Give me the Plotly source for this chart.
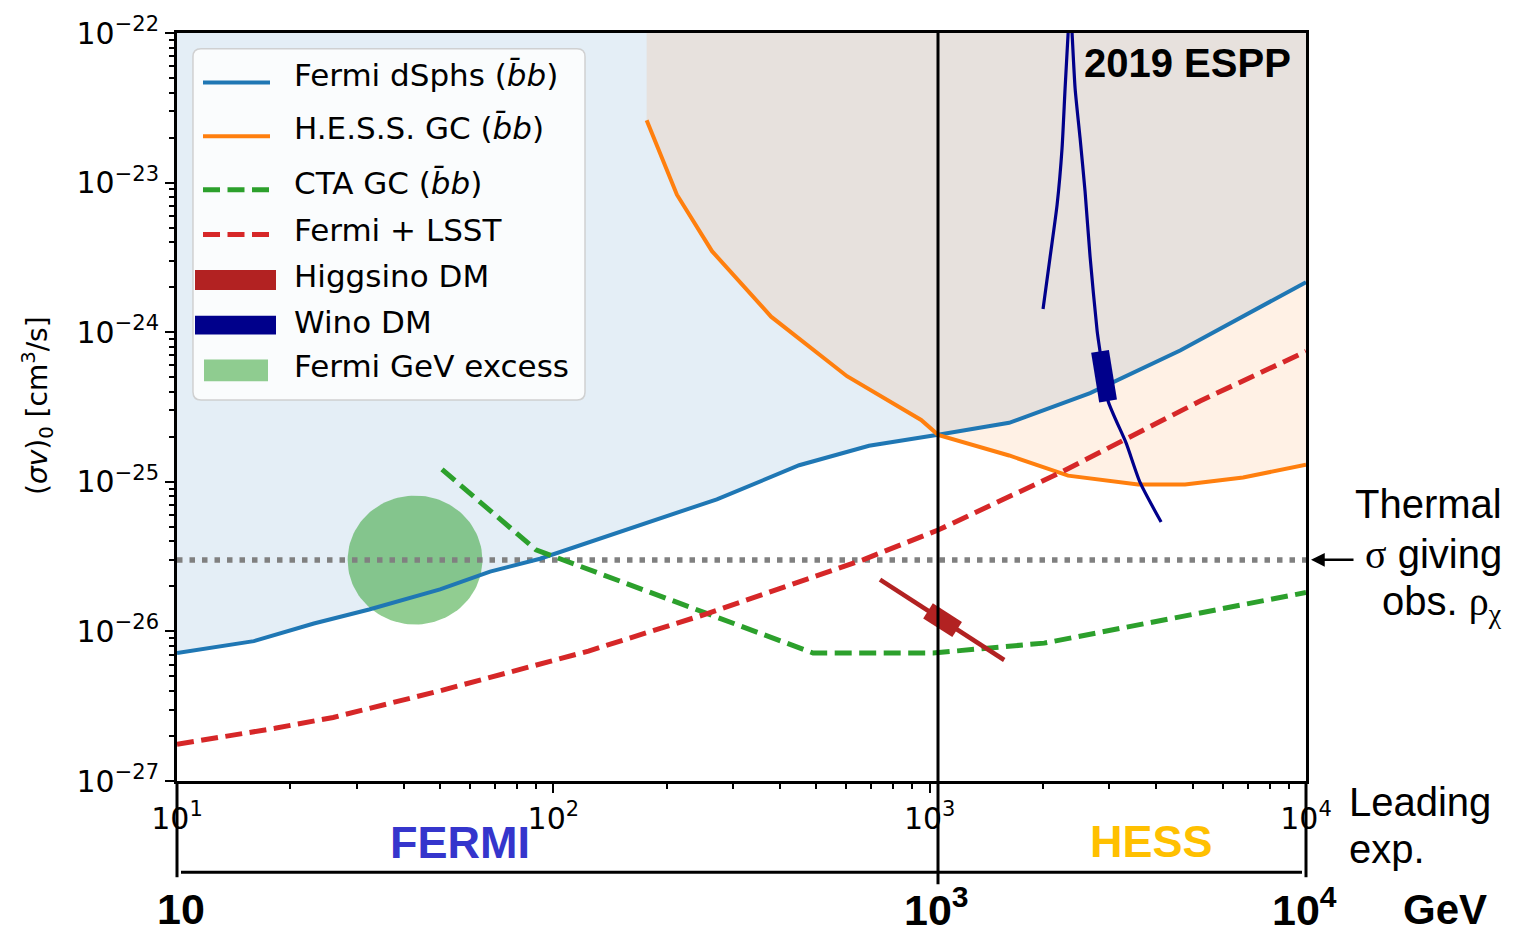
import numpy as np
import plotly.graph_objects as go

# ---------------------------------------------------------------------------
# Limits and projections on the annihilation cross section (GeV, cm^3/s)
# ---------------------------------------------------------------------------
fermi_dsph_mass = [10, 16.0, 23.1, 32.4, 50.0, 67.9, 92.2, 133, 272, 450, 690,
                   1053, 1626, 2669, 4629, 10000]
fermi_dsph_sv = [7.17e-27, 8.61e-27, 1.13e-26, 1.40e-26, 1.91e-26, 2.51e-26,
                 3.06e-26, 4.15e-26, 7.64e-26, 1.29e-25, 1.74e-25, 2.06e-25,
                 2.48e-25, 3.92e-25, 7.55e-25, 2.16e-24]

hess_gc_mass = [177, 213, 264, 379, 603, 949, 1053, 1626, 2333, 3579, 4771,
                6805, 10000]
hess_gc_sv = [2.61e-23, 8.30e-24, 3.48e-24, 1.27e-24, 5.08e-25, 2.59e-25,
              2.06e-25, 1.50e-25, 1.10e-25, 9.61e-26, 9.61e-26, 1.07e-25,
              1.30e-25]

cta_gc_mass = [50.6, 89.9, 490, 1021, 2014, 3996, 10000]
cta_gc_sv = [1.21e-25, 3.51e-26, 7.17e-27, 7.17e-27, 8.35e-27, 1.17e-26,
             1.82e-26]

fermi_lsst_mass = [10, 18.2, 26.0, 50.0, 124, 253, 665, 1053, 2221, 5232,
                   10000]
fermi_lsst_sv = [1.76e-27, 2.25e-27, 2.66e-27, 4.01e-27, 7.39e-27, 1.30e-26,
                 3.01e-26, 4.76e-26, 1.15e-25, 3.47e-25, 7.44e-25]

higgsino_mass = [738, 1578]
higgsino_sv = [2.22e-26, 6.44e-27]
higgsino_thermal_mass = [990, 1183]
higgsino_thermal_sv = [1.37e-26, 1.03e-26]

wino_mass = [2001, 2089, 2181, 2248, 2290, 2333, 2362, 2390, 2435, 2510,
             2588, 2669, 2786, 2836, 2979, 3326, 3623, 4121]
wino_sv = [1.43e-24, 3.17e-24, 7.12e-24, 1.70e-23, 4.25e-23, 1.0e-22,
           1.76e-22, 1.0e-22, 4.25e-23, 1.98e-23, 8.69e-24, 3.17e-24,
           1.02e-24, 7.44e-25, 3.47e-25, 1.82e-25, 9.9e-26, 5.38e-26]
wino_thermal_mass = [2836, 2979]
wino_thermal_sv = [7.44e-25, 3.47e-25]

# Fermi GeV excess region: centre and half-widths (in decades)
gce_mass = 42.9
gce_sv = 3.0e-26
gce_halfwidth_mass_dex = 0.179
gce_halfwidth_sv_dex = 0.431

# thermal relic cross section
thermal_sv = 3.0e-26

x_range_log = [1, 4]
y_range_log = [-27, -22]
x_major = [10, 100, 1000, 10000]
x_labels = ["10<sup>1</sup>", "10<sup>2</sup>", "10<sup>3</sup>", "10<sup>4</sup>"]
y_major = [1e-27, 1e-26, 1e-25, 1e-24, 1e-23, 1e-22]
y_labels = ["10<sup>\u221227</sup>", "10<sup>\u221226</sup>", "10<sup>\u221225</sup>",
            "10<sup>\u221224</sup>", "10<sup>\u221223</sup>", "10<sup>\u221222</sup>"]
x_minor = [k * 10 ** d for d in (1, 2, 3) for k in range(2, 10)]
y_minor = [k * 10.0 ** d for d in (-27, -26, -25, -24, -23) for k in range(2, 10)]

# ---------------------------------------------------------------------------
# Page geometry (pixels) and helpers to place overlay items in paper units
# ---------------------------------------------------------------------------
W, H = 1521, 935
PL, PR, PT, PB = 177, 1306, 27, 781


def fx(px):
    return (px - PL) / (PR - PL)


def fy(py):
    return (PB - py) / (PB - PT)


BLUE = "#1f77b4"
ORANGE = "#ff7f0e"
GREEN = "#2ca02c"
RED = "#d62728"
HIGGSINO = "#b22222"
WINO = "#00008b"
GCE_FILL = "rgba(44,160,44,0.52)"
DASH = "17px,7.5px"
MPL_FONT = "DejaVu Sans"
SLIDE_FONT = "Liberation Sans"
TICK_SIZE = 30

fig = go.Figure()

# excluded regions (filled up to the top of the frame)
top = 10.0 ** y_range_log[1]
fig.add_trace(go.Scatter(
    x=fermi_dsph_mass + [fermi_dsph_mass[-1], fermi_dsph_mass[0]],
    y=fermi_dsph_sv + [top, top],
    mode="lines", line=dict(width=0), fill="toself",
    fillcolor="rgba(31,119,180,0.12)", hoverinfo="skip"))
fig.add_trace(go.Scatter(
    x=hess_gc_mass + [hess_gc_mass[-1], hess_gc_mass[0]],
    y=hess_gc_sv + [top, top],
    mode="lines", line=dict(width=0), fill="toself",
    fillcolor="rgba(255,127,14,0.11)", hoverinfo="skip"))

# Fermi GeV excess ellipse (round in log-log space)
t = np.linspace(0, 2 * np.pi, 121)
fig.add_trace(go.Scatter(
    x=10 ** (np.log10(gce_mass) + gce_halfwidth_mass_dex * np.cos(t)),
    y=10 ** (np.log10(gce_sv) + gce_halfwidth_sv_dex * np.sin(t)),
    mode="lines", line=dict(width=0), fill="toself", fillcolor=GCE_FILL,
    hoverinfo="skip"))

# thermal relic line
fig.add_trace(go.Scatter(
    x=[10.0 ** x_range_log[0], 10.0 ** x_range_log[1]], y=[thermal_sv, thermal_sv],
    mode="lines", line=dict(color="#808080", width=5.5, dash="5.5px,7px")))

fig.add_trace(go.Scatter(x=fermi_dsph_mass, y=fermi_dsph_sv, mode="lines",
                         line=dict(color=BLUE, width=4)))
fig.add_trace(go.Scatter(x=hess_gc_mass, y=hess_gc_sv, mode="lines",
                         line=dict(color=ORANGE, width=4)))
fig.add_trace(go.Scatter(x=cta_gc_mass, y=cta_gc_sv, mode="lines",
                         line=dict(color=GREEN, width=5, dash=DASH)))
fig.add_trace(go.Scatter(x=fermi_lsst_mass, y=fermi_lsst_sv, mode="lines",
                         line=dict(color=RED, width=5, dash=DASH)))

fig.add_trace(go.Scatter(x=higgsino_mass, y=higgsino_sv, mode="lines",
                         line=dict(color=HIGGSINO, width=4.5)))
fig.add_trace(go.Scatter(x=higgsino_thermal_mass, y=higgsino_thermal_sv, mode="lines",
                         line=dict(color=HIGGSINO, width=18)))
fig.add_trace(go.Scatter(x=wino_mass, y=wino_sv, mode="lines",
                         line=dict(color=WINO, width=3.2, shape="spline", smoothing=0.6)))
fig.add_trace(go.Scatter(x=wino_thermal_mass, y=wino_thermal_sv, mode="lines",
                         line=dict(color=WINO, width=18)))

# ---------------------------------------------------------------------------
# Overlay: legend, leading-experiment axis, labels
# ---------------------------------------------------------------------------
shapes = []
annotations = []


def pline(x0, y0, x1, y1, color="black", width=3, dash="solid"):
    shapes.append(dict(type="line", xref="paper", yref="paper",
                       x0=fx(x0), y0=fy(y0), x1=fx(x1), y1=fy(y1),
                       line=dict(color=color, width=width, dash=dash), layer="above"))


def prect(x0, y0, x1, y1, color):
    shapes.append(dict(type="rect", xref="paper", yref="paper",
                       x0=fx(x0), y0=fy(y1), x1=fx(x1), y1=fy(y0),
                       fillcolor=color, line=dict(width=0), layer="above"))


def ptext(px, py, text, size, family=MPL_FONT, color="black",
          xanchor="center", yanchor="middle", angle=0):
    annotations.append(dict(xref="paper", yref="paper", x=fx(px), y=fy(py),
                            text=text, showarrow=False, xanchor=xanchor,
                            yanchor=yanchor, textangle=angle,
                            font=dict(family=family, size=size, color=color)))


def rounded_path(x0, y0, x1, y1, r):
    pts = [("M", [(x0 + r, y0)]), ("L", [(x1 - r, y0)]), ("Q", [(x1, y0), (x1, y0 + r)]),
           ("L", [(x1, y1 - r)]), ("Q", [(x1, y1), (x1 - r, y1)]), ("L", [(x0 + r, y1)]),
           ("Q", [(x0, y1), (x0, y1 - r)]), ("L", [(x0, y0 + r)]),
           ("Q", [(x0, y0), (x0 + r, y0)])]
    out = []
    for cmd, p in pts:
        out.append(cmd + " " + " ".join(f"{fx(a):.5f},{fy(b):.5f}" for a, b in p))
    return " ".join(out) + " Z"


# legend frame
shapes.append(dict(type="path", xref="paper", yref="paper",
                   path=rounded_path(193, 43, 585, 397, 8),
                   fillcolor="rgba(255,255,255,0.8)",
                   line=dict(color="rgba(204,204,204,0.9)", width=1.5), layer="above"))

pline(203, 77, 270, 77, BLUE, 4)
pline(203, 131, 270, 131, ORANGE, 4)
pline(203, 185, 270, 185, GREEN, 5, DASH)
pline(203, 230, 270, 230, RED, 5, DASH)
prect(195, 266, 276, 286, HIGGSINO)
prect(195, 312, 276, 331, WINO)
prect(204, 356, 268, 378, GCE_FILL)

bb = "(<i>b\u0304b</i>)"
legend_rows = [("Fermi dSphs " + bb, 69), ("H.E.S.S. GC " + bb, 123),
               ("CTA GC " + bb, 178), ("Fermi + LSST", 226), ("Higgsino DM", 272),
               ("Wino DM", 318), ("Fermi GeV excess", 363)]
for label, yy in legend_rows:
    ptext(292, yy, label, 31, xanchor="left")

# leading-experiment axis below the plot
pline(938, PT, 938, 885, "black", 3)
pline(PL, PB, PL, 878, "black", 3)
pline(PR, PB, PR, 878, "black", 3)
pline(181, 873, 1302, 873, "black", 3)

ptext(460, 843, "<b>FERMI</b>", 45, SLIDE_FONT, "#3535cc")
ptext(1151, 842, "<b>HESS</b>", 45, SLIDE_FONT, "#ffc000")
ptext(181, 910, "<b>10</b>", 43, SLIDE_FONT)
ptext(936, 908, "<b>10<sup>3</sup></b>", 43, SLIDE_FONT)
ptext(1304, 908, "<b>10<sup>4</sup></b>", 43, SLIDE_FONT)
ptext(1445, 911, "<b>GeV</b>", 42, SLIDE_FONT)
ptext(1347, 802, "Leading", 40, SLIDE_FONT, xanchor="left")
ptext(1347, 850, "exp.", 40, SLIDE_FONT, xanchor="left")

# thermal relic label
greek = "<span style=\"font-family:'Liberation Serif'\">{}</span>"
ptext(1504, 502, "Thermal", 40, SLIDE_FONT, xanchor="right")
ptext(1504, 553, greek.format("\u03c3") + " giving", 40, SLIDE_FONT, xanchor="right")
ptext(1504, 603, "obs. " + greek.format("\u03c1<sub>\u03c7</sub>"), 40, SLIDE_FONT,
      xanchor="right")
annotations.append(dict(xref="paper", yref="paper", x=fx(1311), y=fy(558),
                        ax=44, ay=0, text="", showarrow=True, arrowhead=2,
                        arrowsize=1.1, arrowwidth=2.5, arrowcolor="black"))

ptext(1293, 57, "<b>2019 ESPP</b>", 40, SLIDE_FONT, xanchor="right")

# y-axis title
ptext(37, 403, "(<i>\u03c3v</i>)<sub>0</sub> [cm<sup>3</sup>/s]", 28, angle=-90)

fig.update_layout(
    width=W, height=H,
    margin=dict(l=PL, r=W - PR, t=PT, b=H - PB, pad=0),
    plot_bgcolor="white", paper_bgcolor="white",
    showlegend=False,
    font=dict(family=MPL_FONT, color="black"),
    shapes=shapes, annotations=annotations,
)
fig.update_xaxes(
    type="log", range=x_range_log, showgrid=False, zeroline=False,
    showline=True, linecolor="black", linewidth=3, mirror=True,
    ticks="outside", ticklen=9, tickwidth=2, tickcolor="black",
    tickvals=x_major, ticktext=x_labels,
    tickfont=dict(family=MPL_FONT, size=TICK_SIZE, color="black"),
    minor=dict(tickvals=x_minor, ticks="outside", ticklen=5, tickwidth=1.5,
               tickcolor="black", showgrid=False),
)
fig.update_yaxes(
    type="log", range=y_range_log, showgrid=False, zeroline=False,
    showline=True, linecolor="black", linewidth=3, mirror=True,
    ticks="outside", ticklen=9, tickwidth=2, tickcolor="black",
    tickvals=y_major, ticktext=y_labels,
    tickfont=dict(family=MPL_FONT, size=TICK_SIZE, color="black"),
    minor=dict(tickvals=y_minor, ticks="outside", ticklen=5, tickwidth=1.5,
               tickcolor="black", showgrid=False),
)

fig.write_html("out.html")
